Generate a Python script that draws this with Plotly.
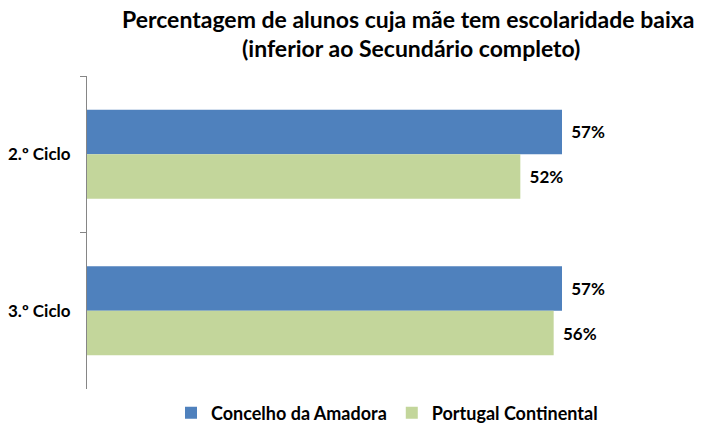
import plotly.graph_objects as go

categories = ["2.º Ciclo", "3.º Ciclo"]
amadora = [0.57, 0.57]
portugal = [0.52, 0.56]
series_names = ["Concelho da Amadora", "Portugal Continental"]
title_lines = ["Percentagem de alunos cuja mãe tem escolaridade baixa", "(inferior ao Secundário completo)"]

FONT = "Lato"
fig = go.Figure()
for name, vals, col in [(series_names[0], amadora, "#4F81BD"), (series_names[1], portugal, "#C3D69B")]:
    fig.add_trace(go.Bar(
        y=categories, x=vals, name=name, orientation="h",
        marker=dict(color=col, line=dict(width=0)),
        texttemplate="\u00a0\u2009%{x:.0%}", textposition="outside",
        textfont=dict(family=FONT, size=17, color="black", weight="bold"),
        cliponaxis=False,
    ))

# title as two annotations
for i, line in enumerate(title_lines):
    fig.add_annotation(text=line, xref="paper", yref="paper",
                       x=0.535 if i == 0 else 0.54, y=1 + (57 - 29 * i) / 313,
                       xanchor="center", yanchor="middle", showarrow=False,
                       font=dict(family=FONT, size=23, color="black", weight="bold"))

fig.update_layout(
    width=718, height=434,
    margin=dict(l=87, r=31, t=76, b=45, autoexpand=False),
    paper_bgcolor="white", plot_bgcolor="white",
    barmode="group", bargap=0.43, bargroupgap=0,
    showlegend=True,
    legend=dict(orientation="h", x=0.50, xanchor="center", y=-0.077, yanchor="middle",
                font=dict(family=FONT, size=18, color="black", weight="bold"),
                traceorder="normal", itemwidth=30),
    xaxis=dict(visible=False, range=[0, 0.72], fixedrange=True),
    yaxis=dict(autorange="reversed", showline=True, linecolor="#868686", linewidth=1,
               ticks="outside", ticklen=6, tickcolor="#868686", tickson="boundaries",
               ticklabelstandoff=12,
               tickfont=dict(family=FONT, size=17, color="black", weight="bold"),
               showgrid=False, zeroline=False),
)

fig.write_html("out.html")
